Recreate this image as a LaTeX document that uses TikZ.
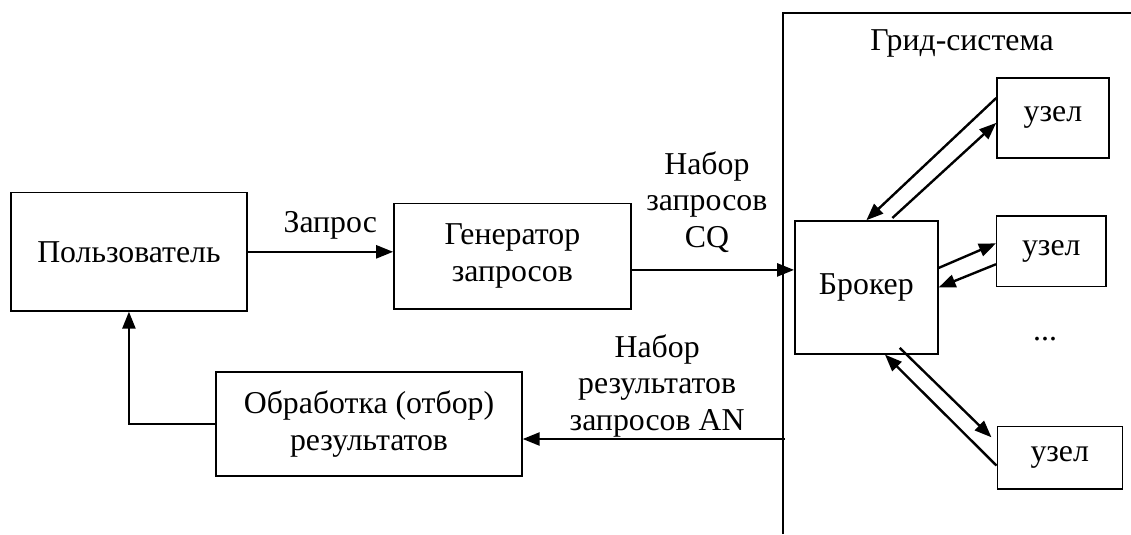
\documentclass[tikz,border=0pt]{standalone}
\usepackage{fontspec}
\setmainfont{Liberation Serif}
\usetikzlibrary{arrows.meta}

\begin{document}
\begin{tikzpicture}[line width=1.2pt,
    font=\fontsize{16}{18.5}\selectfont,
    box/.style={draw, line width=0.75pt, align=center, inner sep=0pt},
    arr/.style={-{Triangle[length=3mm, width=2.3mm]}, line width=1.2pt}]
    \useasboundingbox (0, 0) rectangle (20, 9.443);

    % draw grid system border
    \coordinate (gridbot) at (13.846, 0);
    \coordinate (gridtop) at (13.846, 9.213);
    \coordinate (gridend) at (20, 9.213);
    \draw[line width=0.75pt] (gridbot) -- (gridtop) -- (gridend);
    \node (gridlbl) at (17.01, 8.68) {Грид-система};

    % draw boxes
    \node[box, minimum width=4.17cm, minimum height=2.09cm] (user) at (2.28, 4.99) {Пользователь};
    \node[box, minimum width=4.19cm, minimum height=1.86cm] (gen) at (9.06, 4.91) {Генератор\\запросов};
    \node[box, minimum width=5.41cm, minimum height=1.84cm] (proc) at (6.525, 1.945) {Обработка (отбор)\\результатов};
    \node[box, minimum width=2.53cm, minimum height=2.35cm] (broker) at (15.32, 4.36) {Брокер};

    \node[box, minimum width=1.98cm, minimum height=1.415cm] (n1) at (18.62, 7.36) {узел};
    \node[box, minimum width=1.93cm, minimum height=1.24cm] (n2) at (18.59, 5.00) {узел};
    \node[box, minimum width=2.21cm, minimum height=1.11cm] (n3) at (18.74, 1.35) {узел};
    \node (dots) at (18.48, 3.45) {...};

    % draw labels
    \node (lblreq) at (5.84, 5.46) {Запрос};
    \node[align=center] (lblcq) at (12.50, 5.87) {Набор\\запросов\\CQ};
    \node[align=center] (lblan) at (11.62, 2.62) {Набор\\результатов\\запросов AN};

    % draw main arrows
    \draw[arr] (user.east) -- (user.east -| gen.west);
    \coordinate (cqstart) at ([yshift=-0.24cm]gen.east);
    \draw[arr] (cqstart) -- (cqstart -| broker.west);
    \coordinate (anstart) at (13.88, 1.68);
    \draw[arr] (anstart) -- (anstart -| proc.east);
    \draw[arr] (proc.west) -| (user.south);

    % draw broker <-> node arrows
    \draw[arr] ([yshift=0.35cm]n1.west) -- (broker.north);
    \draw[arr] ([xshift=0.46cm, yshift=0.04cm]broker.north) -- ([yshift=-0.09cm]n1.west);
    \draw[arr] ([yshift=0.345cm]broker.east) -- ([yshift=0.14cm]n2.west);
    \draw[arr] ([yshift=-0.23cm]n2.west) -- (broker.east);
    \draw[arr] ([xshift=0.59cm, yshift=0.12cm]broker.south) -- ([xshift=-0.09cm, yshift=0.36cm]n3.west);
    \draw[arr] ([yshift=-0.14cm]n3.west) -- ([xshift=0.33cm]broker.south);
\end{tikzpicture}
\end{document}
